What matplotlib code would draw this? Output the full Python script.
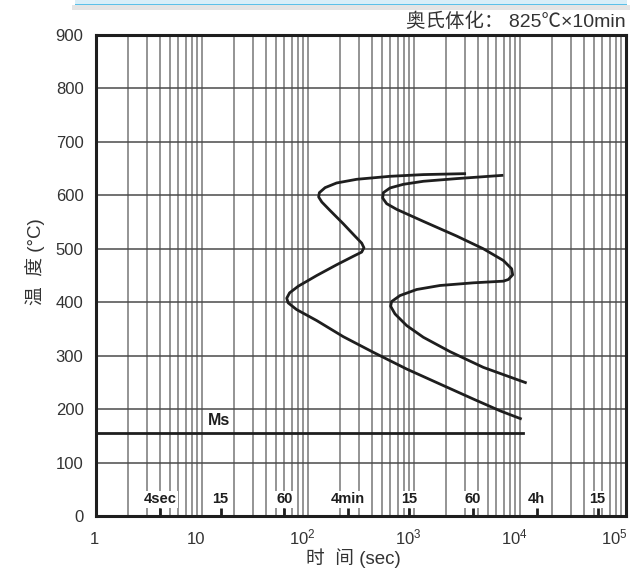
import matplotlib
matplotlib.use("Agg")
import matplotlib.pyplot as plt
import numpy as np
from matplotlib.patches import Rectangle
from matplotlib.ticker import FixedLocator, NullFormatter
from matplotlib.transforms import ScaledTranslation, blended_transform_factory

plt.rcParams['font.family'] = ['Liberation Sans', 'Noto Sans CJK SC', 'DejaVu Sans']
plt.rcParams['mathtext.fontset'] = 'custom'
plt.rcParams['mathtext.rm'] = 'Liberation Sans'
plt.rcParams['mathtext.default'] = 'regular'

# ---- data ----
start_time = [3097, 1225, 594, 288, 186, 145, 128, 126, 135, 161, 215, 277, 321, 337,
              321, 277, 186, 121, 81, 67, 63, 65, 78, 121, 215, 413, 853, 1758, 3631,
              6471, 10375]
start_temp = [640.6, 638.8, 635.6, 630, 623.1, 614.4, 605, 596.9, 587.5, 571.9, 546.9,
              523.8, 510.6, 501.9, 493.8, 487.5, 470, 450, 430, 417.5, 407.5, 398.8,
              386.3, 365.6, 335.6, 306.3, 275, 246.9, 218.8, 196.9, 181.3]

finish_time = [6966, 2527, 1225, 793, 594, 514, 506, 552, 686, 1225, 2527, 4508, 6966,
               8343, 8531, 7762, 6966, 3631, 1758, 1059, 738, 615, 602, 662, 853, 1225,
               2188, 4508, 11560]
finish_temp = [637.5, 631.3, 626.3, 620.6, 613.8, 605, 595, 584.4, 573.8, 551.3, 523.8,
               500, 478.1, 462.5, 451.3, 442.5, 439.4, 436.3, 431.3, 423.8, 412.5, 401.3,
               392.5, 378.1, 356.3, 334.4, 307.5, 278.1, 248.8]

ms_temp = 156
ms_time_range = [1, 10740]

x_major = [1, 10, 100, 1000, 10000, 100000]
x_major_labels = ['1', '10', r'$10^{2}$', r'$10^{3}$', r'$10^{4}$', r'$10^{5}$']
y_ticks = [0, 100, 200, 300, 400, 500, 600, 700, 800, 900]

time_mark_sec = [4, 15, 60, 240, 900, 3600, 14400, 54000]
time_mark_labels = ['4sec', '15', '60', '4min', '15', '60', '4h', '15']

title_text = '奥氏体化： 825℃×10min'
xlabel = '时  间 (sec)'
ylabel = '温  度 (°C)'

# ---- figure ----
fig = plt.figure(figsize=(6.3, 5.72), dpi=100)
ax = fig.add_axes([96/630, 1-516/572, 530/630, 481/572])
ax.set_xscale('log')
ax.set_xlim(1, 1e5)
ax.set_ylim(0, 900)

# grid
minor = [m * 10**d for d in range(5) for m in range(2, 10)]
for v in minor + x_major[1:-1]:
    ax.axvline(v, color='#777777', lw=1.1, zorder=1)
for v in y_ticks[1:-1]:
    ax.axhline(v, color='#4a4a4a', lw=1.1, zorder=1)

# curves
for xs, ys in [(start_time, start_temp), (finish_time, finish_temp)]:
    ax.plot(xs, ys, color='#1e1e1e', lw=2.0, solid_joinstyle='round',
            solid_capstyle='butt', zorder=4)
ax.plot(ms_time_range, [ms_temp, ms_temp], color='#1e1e1e', lw=2.0, zorder=4)
ax.text(14.5, ms_temp + 8, 'Ms', fontsize=11.5, fontweight='bold', ha='center',
        va='bottom', color='#1e1e1e', zorder=5)

# bottom time markers
for t, lab in zip(time_mark_sec, time_mark_labels):
    ax.plot([t, t], [0, 15], color='#1e1e1e', lw=2.0, zorder=5, solid_capstyle='butt')
    ax.text(t, 31, lab, fontsize=10.5, fontweight='bold', ha='center', va='center',
            color='#1e1e1e', zorder=6,
            bbox=dict(boxstyle='square,pad=0.12', fc='white', ec='none'))

# axes styling
for s in ax.spines.values():
    s.set_linewidth(2.2)
    s.set_color('#1e1e1e')
    s.set_zorder(7)
ax.xaxis.set_major_locator(FixedLocator(x_major))
ax.xaxis.set_minor_locator(FixedLocator([]))
ax.xaxis.set_major_formatter(NullFormatter())
ax.set_yticks(y_ticks)
ax.tick_params(axis='both', length=0, labelsize=12, colors='#333333')
ax.tick_params(axis='y', pad=9)

# x tick labels placed on a common baseline
btrans = blended_transform_factory(ax.transData, ax.transAxes)
shifts = [-2, -6, -6, -6, -6, -12]
for v, lab, dx in zip(x_major, x_major_labels, shifts):
    ax.text(v, -28/481, lab, transform=btrans + ScaledTranslation(dx/100, 0, fig.dpi_scale_trans),
            ha='center', va='baseline', fontsize=12, color='#333333', clip_on=False)

fig.text(353/630, 1-558/572, xlabel, ha='center', va='center', fontsize=13.5,
         color='#333333')
fig.text(35/630, 1-262/572, ylabel, ha='center', va='center', fontsize=13.5,
         color='#333333', rotation=90)

fig.text(626/630, 1-22/572, title_text, ha='right', va='center', fontsize=14,
         color='#333333')

# header band
fig.patches.append(Rectangle((75/630, 1-4/572), 552/630, 4/572, transform=fig.transFigure,
                             fc='#d8eef8', ec='none'))
fig.patches.append(Rectangle((75/630, 1-5.5/572), 552/630, 1.8/572, transform=fig.transFigure,
                             fc='#5bc0e8', ec='none'))
fig.patches.append(Rectangle((72/630, 1-10/572), 558/630, 4.5/572, transform=fig.transFigure,
                             fc='#e4e4e4', ec='none'))

fig.savefig('out.png', dpi=100)
